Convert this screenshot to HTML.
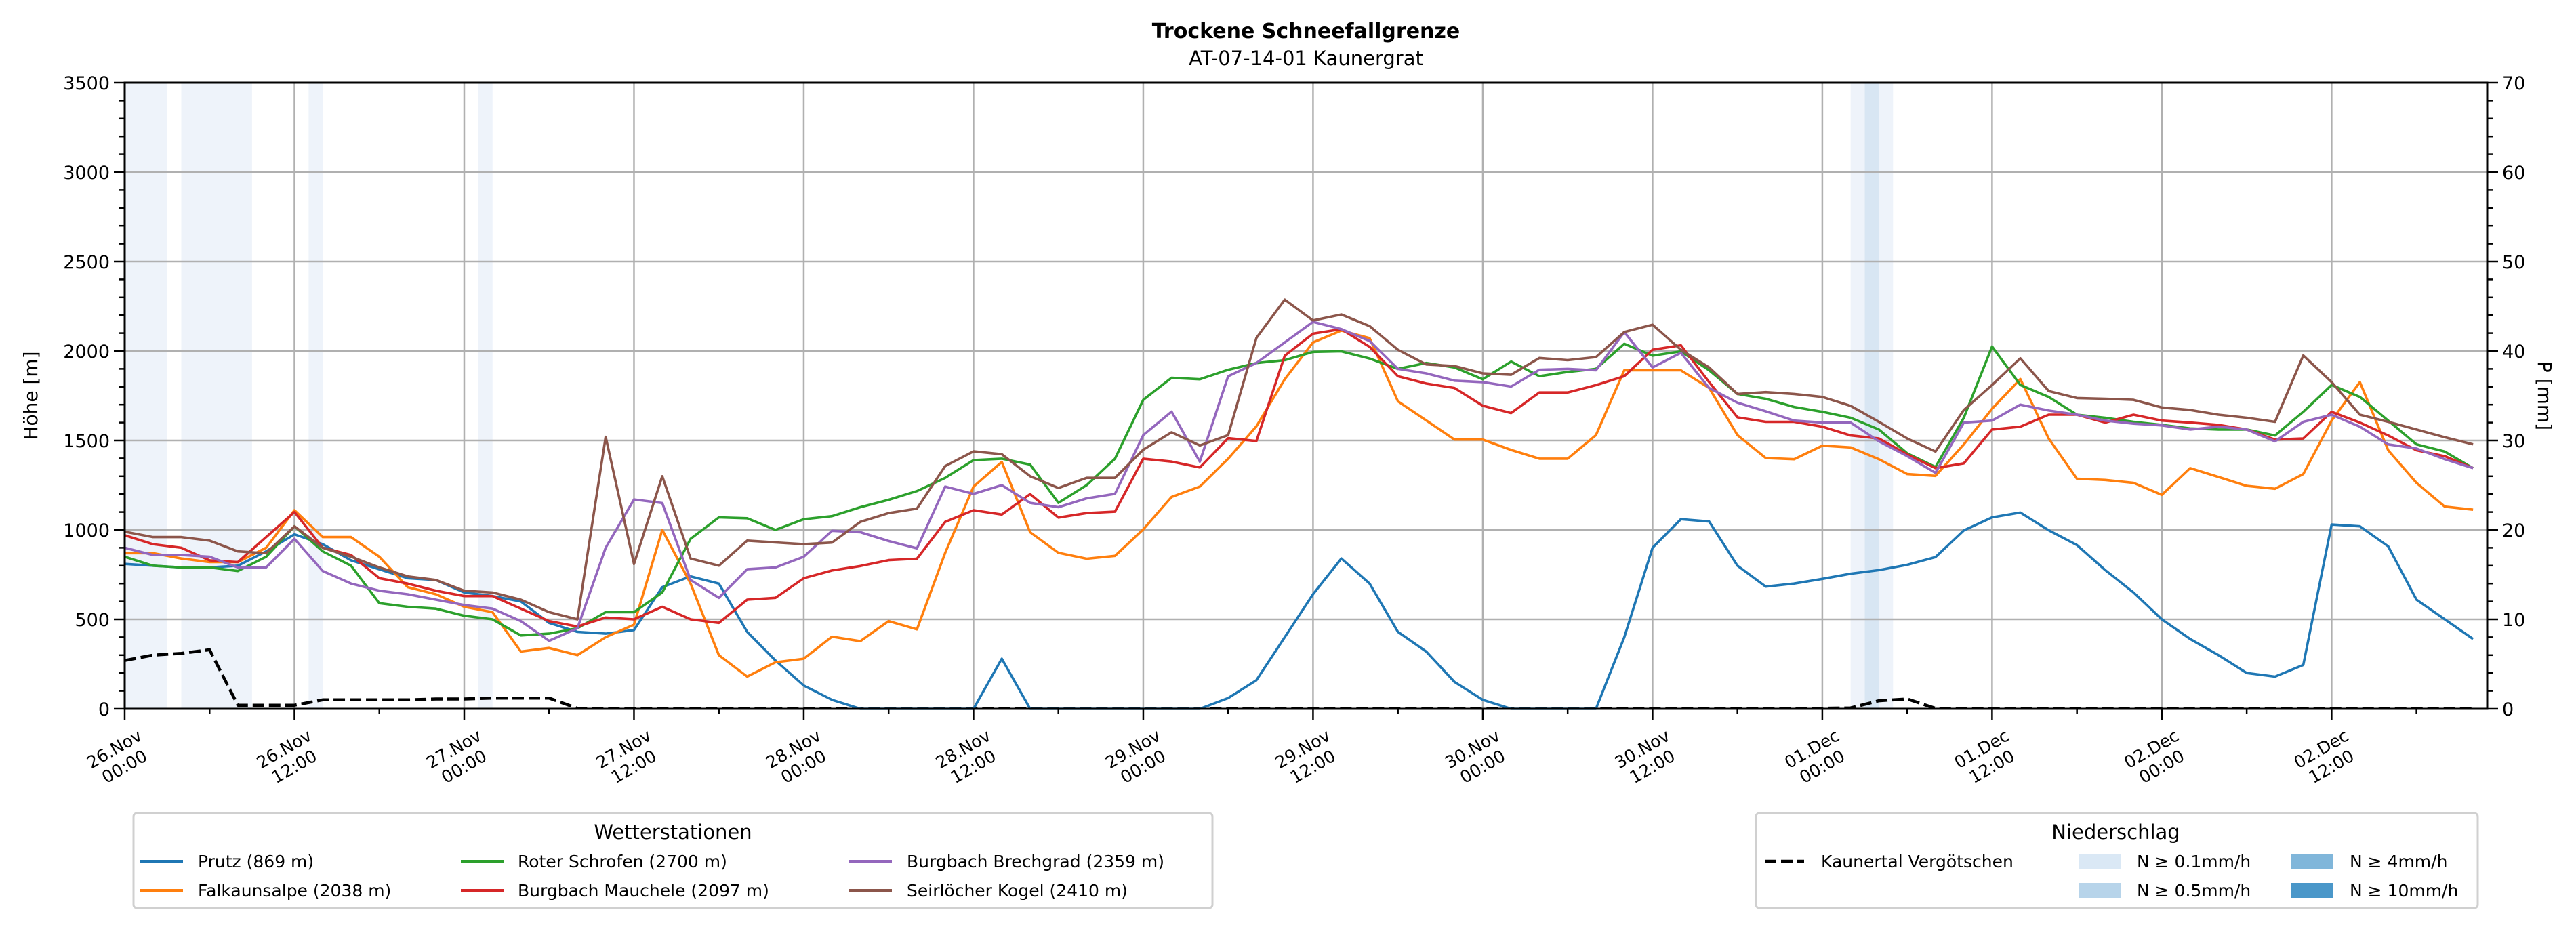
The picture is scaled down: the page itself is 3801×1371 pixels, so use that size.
<!DOCTYPE html>
<html><head><meta charset="utf-8">
<style>
html,body{margin:0;padding:0;background:#fff;}
svg{display:block;font-family:"DejaVu Sans","Liberation Sans",sans-serif;}
</style></head>
<body>
<svg id="chart" width="3801" height="1371" viewBox="0 0 3801 1371" xmlns="http://www.w3.org/2000/svg">
<rect width="3801" height="1371" fill="#fff"/>
<text x="1927" y="56" text-anchor="middle" font-size="30" font-weight="bold">Trockene Schneefallgrenze</text>
<text x="1927" y="96" text-anchor="middle" font-size="29">AT-07-14-01 Kaunergrat</text>
<g id="spans"></g><g id="grid"></g><g id="series"></g><g id="axes"></g>
<text transform="translate(55,584) rotate(-90)" text-anchor="middle" font-size="28">Höhe [m]</text>
<text transform="translate(3745,584) rotate(90)" text-anchor="middle" font-size="28">P [mm]</text>
<g>
<rect x="197" y="1200" width="1592" height="140" fill="#fff" stroke="#d0d0d0" stroke-width="3" rx="5"/>
<text x="993" y="1238" text-anchor="middle" font-size="29">Wetterstationen</text>
<line x1="207" y1="1271" x2="270" y2="1271" stroke="#1f77b4" stroke-width="4"/><text x="292" y="1280" font-size="25">Prutz (869 m)</text>
<line x1="207" y1="1314" x2="270" y2="1314" stroke="#ff7f0e" stroke-width="4"/><text x="292" y="1323" font-size="25">Falkaunsalpe (2038 m)</text>
<line x1="680" y1="1271" x2="743" y2="1271" stroke="#2ca02c" stroke-width="4"/><text x="764" y="1280" font-size="25">Roter Schrofen (2700 m)</text>
<line x1="680" y1="1314" x2="743" y2="1314" stroke="#d62728" stroke-width="4"/><text x="764" y="1323" font-size="25">Burgbach Mauchele (2097 m)</text>
<line x1="1253" y1="1271" x2="1316" y2="1271" stroke="#9467bd" stroke-width="4"/><text x="1338" y="1280" font-size="25">Burgbach Brechgrad (2359 m)</text>
<line x1="1253" y1="1314" x2="1316" y2="1314" stroke="#8c564b" stroke-width="4"/><text x="1338" y="1323" font-size="25">Seirlöcher Kogel (2410 m)</text>
</g>
<g>
<rect x="2591" y="1200" width="1065" height="140" fill="#fff" stroke="#d0d0d0" stroke-width="3" rx="5"/>
<text x="3122" y="1238" text-anchor="middle" font-size="29">Niederschlag</text>
<line x1="2604" y1="1271" x2="2662" y2="1271" stroke="#000" stroke-width="4.5" stroke-dasharray="17,7"/><text x="2687" y="1280" font-size="25">Kaunertal Vergötschen</text>
<rect x="3067" y="1260" width="62" height="22" fill="#dae8f5"/><text x="3153" y="1280" font-size="25">N ≥ 0.1mm/h</text>
<rect x="3067" y="1303" width="62" height="22" fill="#b7d4ea"/><text x="3153" y="1323" font-size="25">N ≥ 0.5mm/h</text>
<rect x="3381" y="1260" width="62" height="22" fill="#80b6da"/><text x="3467" y="1280" font-size="25">N ≥ 4mm/h</text>
<rect x="3381" y="1303" width="62" height="22" fill="#4a97c9"/><text x="3467" y="1323" font-size="25">N ≥ 10mm/h</text>
</g>
</svg>
<script>
const hours = [];
for (let h = 0; h <= 166; h += 2) hours.push(h);
const prutz = [810,800,790,790,800,880,975,920,830,780,730,720,650,630,600,480,430,420,440,680,740,700,430,270,130,50,0,0,0,0,0,280,0,0,0,0,0,0,0,60,160,400,640,840,700,430,320,150,50,0,0,0,0,400,900,1060,1047,800,683,700,726,755,775,805,848,997,1070,1097,998,915,775,650,500,390,300,200,180,245,1030,1020,908,610,500,390];
const falkaunsalpe = [870,870,840,820,820,900,1110,960,960,850,680,640,570,540,320,340,300,400,470,1000,700,300,180,260,280,403,378,490,444,872,1242,1380,987,872,839,855,1003,1184,1242,1398,1579,1842,2048,2114,2072,1719,1612,1505,1505,1447,1398,1398,1530,1892,1892,1892,1793,1530,1402,1395,1471,1461,1395,1312,1302,1478,1677,1843,1511,1286,1279,1263,1196,1345,1296,1246,1230,1312,1611,1826,1445,1263,1130,1113];
const roterSchrofen = [850,800,790,790,770,850,1020,880,800,590,570,560,520,500,410,420,450,540,540,650,950,1070,1065,1000,1060,1077,1127,1168,1217,1291,1390,1398,1365,1151,1250,1398,1727,1850,1842,1895,1933,1949,1995,1998,1958,1900,1933,1908,1842,1941,1859,1883,1900,2040,1974,1998,1892,1760,1733,1687,1660,1627,1561,1428,1352,1627,2025,1810,1743,1644,1627,1604,1587,1567,1561,1561,1528,1660,1810,1743,1611,1478,1438,1345];
const mauchele = [970,920,900,830,820,960,1100,900,860,730,700,660,630,630,560,490,460,510,500,570,500,480,610,620,730,773,798,831,839,1045,1110,1086,1200,1069,1094,1102,1398,1382,1349,1513,1497,1974,2097,2122,2023,1859,1818,1793,1694,1653,1768,1768,1809,1859,2007,2032,1826,1629,1604,1604,1577,1528,1511,1422,1345,1372,1561,1577,1644,1644,1600,1644,1611,1600,1587,1561,1505,1511,1660,1600,1528,1445,1412,1345];
const brechgrad = [900,860,860,850,790,790,950,770,700,660,640,610,580,560,490,380,450,900,1170,1150,720,620,780,790,850,995,987,938,897,1242,1201,1250,1151,1127,1176,1201,1530,1661,1382,1859,1933,2048,2163,2122,2056,1900,1875,1834,1826,1801,1895,1900,1892,2106,1908,1990,1793,1711,1663,1611,1600,1600,1495,1412,1319,1600,1611,1700,1667,1644,1611,1594,1584,1561,1577,1561,1495,1604,1644,1577,1478,1455,1395,1345];
const seirloecher = [990,960,960,940,880,870,1020,900,850,790,740,720,660,650,610,540,500,1520,810,1300,840,800,940,930,920,929,1045,1094,1119,1357,1439,1423,1300,1234,1291,1291,1448,1546,1472,1530,2073,2287,2171,2204,2139,2007,1925,1916,1875,1867,1961,1949,1966,2106,2147,2007,1908,1760,1770,1760,1743,1693,1604,1511,1438,1670,1810,1959,1776,1737,1733,1727,1684,1670,1644,1627,1604,1975,1826,1644,1604,1561,1518,1478];
const kaunertalMm = [5.4,6.0,6.2,6.6,0.4,0.4,0.4,1.0,1.0,1.0,1.0,1.1,1.1,1.2,1.2,1.2,0.05,0.05,0.05,0.05,0.05,0.05,0.05,0.05,0.05,0.05,0.05,0.05,0.05,0.05,0.05,0.05,0.05,0.05,0.05,0.05,0.05,0.05,0.05,0.05,0.05,0.05,0.05,0.05,0.05,0.05,0.05,0.05,0.05,0.05,0.05,0.05,0.05,0.05,0.05,0.05,0.05,0.05,0.05,0.05,0.05,0.1,0.9,1.1,0.05,0.05,0.05,0.05,0.05,0.05,0.05,0.05,0.05,0.05,0.05,0.05,0.05,0.05,0.05,0.05,0.05,0.05,0.05,0.05];
const lightSpanStart = [0,4,13,25,122];
const lightSpanEnd = [3,9,14,26,125];
const darkSpanStart = [123];
const darkSpanEnd = [124];
const xTickLabels = ["26.Nov|00:00","26.Nov|12:00","27.Nov|00:00","27.Nov|12:00","28.Nov|00:00","28.Nov|12:00","29.Nov|00:00","29.Nov|12:00","30.Nov|00:00","30.Nov|12:00","01.Dec|00:00","01.Dec|12:00","02.Dec|00:00","02.Dec|12:00"];
const yTicks = [0,500,1000,1500,2000,2500,3000,3500];
const y2Ticks = [0,10,20,30,40,50,60,70];

const L=184,R=3670,T=122,B=1046,HMAX=167;
const x = h => L + h*(R-L)/HMAX;
const y = v => B - v*(B-T)/3500;
const y2 = v => B - v*(B-T)/70;
const NS="http://www.w3.org/2000/svg";
function mk(tag, parent, attrs){const e=document.createElementNS(NS,tag);for(const k in attrs)e.setAttribute(k,attrs[k]);document.getElementById(parent).appendChild(e);return e;}

for(let i=0;i<lightSpanStart.length;i++){
  const r=mk('rect','spans',{x:x(lightSpanStart[i]),y:T,width:x(lightSpanEnd[i])-x(lightSpanStart[i]),height:B-T,fill:'#eef3fa'});
  
  
}
for(let i=0;i<darkSpanStart.length;i++){
  const r=mk('rect','spans',{x:x(darkSpanStart[i]),y:T,width:x(darkSpanEnd[i])-x(darkSpanStart[i]),height:B-T,fill:'#d8e6f3'});
  
  
}
// grid
xTickLabels.forEach((lab,i)=>{
  const xx=x(i*12);
  const g=mk('line','grid',{x1:xx,x2:xx,y1:T,y2:B,stroke:'#b0b0b0','stroke-width':2.5});
  
  
});
yTicks.forEach(v=>{
  const g=mk('line','grid',{x1:L,x2:R,y1:y(v),y2:y(v),stroke:'#b0b0b0','stroke-width':2.5});
  
  
});
// series
function line(vals, color, name, fy, dash){
  const pts=hours.map((h,i)=>x(h).toFixed(1)+','+Math.min(B+4,fy(vals[i])).toFixed(1)).join(' ');
  const attrs={points:pts,fill:'none',stroke:color,'stroke-width':dash?4.5:3.6,'stroke-linejoin':'round'};
  if(dash) attrs['stroke-dasharray']='17,7';
  const p=mk('polyline','series',attrs);
  
  
}
line(kaunertalMm,'#000','kaunertal-precip-line',y2,true);
line(prutz,'#1f77b4','prutz-line',y);
line(falkaunsalpe,'#ff7f0e','falkaunsalpe-line',y);
line(roterSchrofen,'#2ca02c','roter-schrofen-line',y);
line(mauchele,'#d62728','burgbach-mauchele-line',y);
line(brechgrad,'#9467bd','burgbach-brechgrad-line',y);
line(seirloecher,'#8c564b','seirloecher-kogel-line',y);
// axes
const frame=mk('rect','axes',{x:L,y:T,width:R-L,height:B-T,fill:'none',stroke:'#000','stroke-width':3});


for(let v=0;v<=3500;v+=100){
  const major=v%500===0;
  mk('line','axes',{x1:L-(major?16:8),x2:L,y1:y(v),y2:y(v),stroke:'#000','stroke-width':2.5});
}
for(let v=0;v<=70;v+=2){
  const major=v%10===0;
  mk('line','axes',{x1:R,x2:R+(major?16:8),y1:y2(v),y2:y2(v),stroke:'#000','stroke-width':2.5});
}
yTicks.forEach(v=>{
  const t=mk('text','axes',{x:L-22,y:y(v)+10,'text-anchor':'end','font-size':27});
  t.textContent=v;
  
  
});
y2Ticks.forEach(v=>{
  const t=mk('text','axes',{x:R+22,y:y2(v)+10,'text-anchor':'start','font-size':27});
  t.textContent=v;
  
  
});
for(let h=0;h<=HMAX;h+=6){
  const major=h%12===0;
  mk('line','axes',{x1:x(h),x2:x(h),y1:B,y2:B+(major?16:8),stroke:'#000','stroke-width':2.5});
}
xTickLabels.forEach((lab,i)=>{
  const xx=x(i*12)-8, yy=1118;
  const t=mk('text','axes',{transform:`translate(${xx},${yy}) rotate(-30)`,'text-anchor':'middle','font-size':25});
  
  
  const [a,b]=lab.split('|');
  const s1=document.createElementNS(NS,'tspan');s1.setAttribute('x',0);s1.setAttribute('y',-6);s1.textContent=a;t.appendChild(s1);
  const s2=document.createElementNS(NS,'tspan');s2.setAttribute('x',0);s2.setAttribute('y',24);s2.textContent=b;t.appendChild(s2);
});
</script>
</body></html>
